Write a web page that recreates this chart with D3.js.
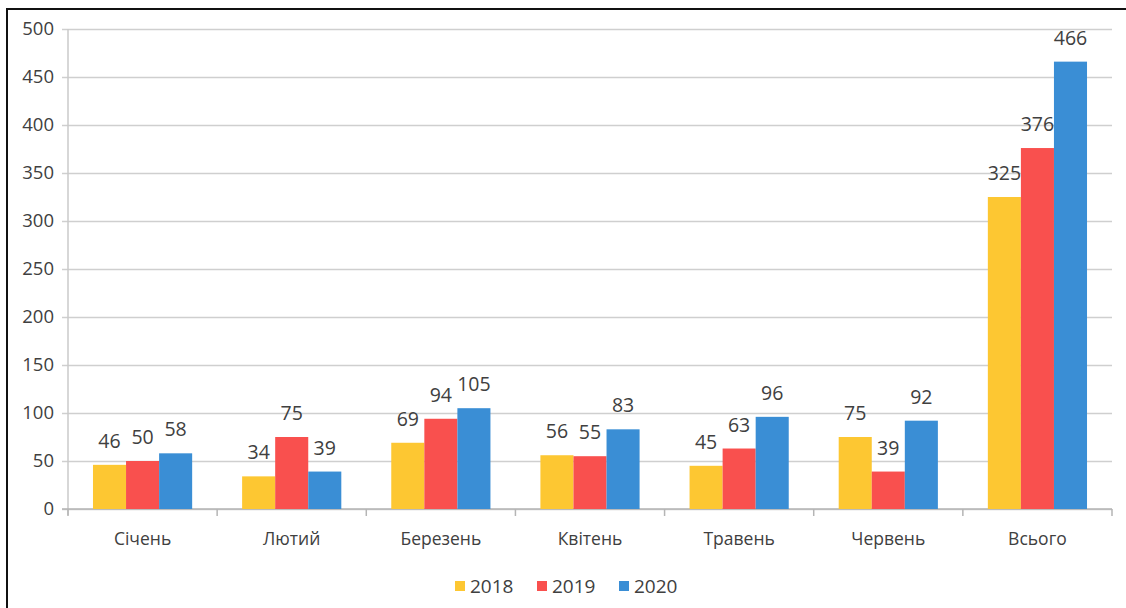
<!DOCTYPE html>
<html>
<head>
<meta charset="utf-8">
<script src="https://cdn.jsdelivr.net/npm/d3@7"></script>
<style>
  html, body { margin: 0; padding: 0; background: #fff; }
  svg { display: block; }
  text { font-family: "Open Sans", "Noto Sans", sans-serif; fill: #404040; }
</style>
</head>
<body>
<svg id="chart" width="1126" height="608"></svg>
<script>
// Monthly counts, January–June, plus total
const categories = ["Січень", "Лютий", "Березень", "Квітень", "Травень", "Червень", "Всього"];
const years = ["2018", "2019", "2020"];
const values2018 = [46, 34, 69, 56, 45, 75, 325];
const values2019 = [50, 75, 94, 55, 63, 39, 376];
const values2020 = [58, 39, 105, 83, 96, 92, 466];
const yTicks = [0, 50, 100, 150, 200, 250, 300, 350, 400, 450, 500];
const colors = ["#FDC732", "#F9504E", "#3A8ED5"];

const seriesValues = [values2018, values2019, values2020];
const rows = categories.map((c, i) => ({
  category: c,
  values: years.map((y, k) => ({ year: y, value: seriesValues[k][i], k }))
}));

const svg = d3.select("#chart");

const plotLeft = 68, plotRight = 1112, plotTop = 29, plotBottom = 509;

const x0 = d3.scaleBand().domain(categories).range([plotLeft, plotRight])
  .paddingInner(0.335).paddingOuter(0.1675);
const x1 = d3.scaleBand().domain(years).range([0, x0.bandwidth()]);
const y = d3.scaleLinear().domain([0, 500]).range([plotBottom, plotTop]);
const color = d3.scaleOrdinal().domain(years).range(colors);

// outer frame
svg.append("rect")
  .attr("x", 7).attr("y", 9)
  .attr("width", 1140).attr("height", 640)
  .attr("fill", "none").attr("stroke", "#111").attr("stroke-width", 2);

// horizontal gridlines with y labels
const yAxis = d3.axisLeft(y).tickValues(yTicks).tickSize(-(plotRight - plotLeft)).tickPadding(14);
const gy = svg.append("g").attr("transform", `translate(${plotLeft},0)`).call(yAxis);
gy.select(".domain").remove();
gy.selectAll(".tick line")
  .attr("x1", -6)
  .attr("stroke", "#cfcfcf").attr("stroke-width", 1.5);
gy.selectAll(".tick text")
  .style("font-size", "18.5px").attr("fill", "#404040")
  .attr("dy", "0.3em");

// vertical axis line
svg.append("line")
  .attr("x1", plotLeft).attr("x2", plotLeft).attr("y1", plotTop).attr("y2", plotBottom + 6)
  .attr("stroke", "#cacaca").attr("stroke-width", 1.5);

// category axis
const step = x0.step();
const boundaries = d3.range(categories.length + 1).map(i => plotLeft + i * step);
svg.append("line")
  .attr("x1", plotLeft - 6).attr("x2", plotRight).attr("y1", plotBottom).attr("y2", plotBottom)
  .attr("stroke", "#b5b5b5").attr("stroke-width", 1.5);
svg.append("g").selectAll("line").data(boundaries).join("line")
  .attr("x1", d => d).attr("x2", d => d)
  .attr("y1", plotBottom).attr("y2", plotBottom + 7)
  .attr("stroke", "#b5b5b5").attr("stroke-width", 1.5);

svg.append("g").selectAll("text").data(categories).join("text")
  .attr("x", d => x0(d) + x0.bandwidth() / 2)
  .attr("y", 545)
  .attr("text-anchor", "middle")
  .style("font-size", "17.5px")
  .text(d => d);

// bars
const groups = svg.append("g").selectAll("g").data(rows).join("g")
  .attr("transform", d => `translate(${x0(d.category)},0)`);

groups.selectAll("rect").data(d => d.values).join("rect")
  .attr("x", d => x1(d.year))
  .attr("y", d => y(d.value))
  .attr("width", x1.bandwidth())
  .attr("height", d => y(0) - y(d.value))
  .attr("fill", d => color(d.year));

// value labels
groups.selectAll("text").data(d => d.values).join("text")
  .attr("x", d => x1(d.year) + x1.bandwidth() / 2)
  .attr("y", d => y(d.value) - 17)
  .attr("text-anchor", "middle")
  .style("font-size", "19.5px")
  .text(d => d.value);

// legend
const legendItems = [
  { year: "2018", sx: 455 },
  { year: "2019", sx: 537 },
  { year: "2020", sx: 619 }
];
const lg = svg.append("g").selectAll("g").data(legendItems).join("g")
  .attr("transform", d => `translate(${d.sx},586)`);
lg.append("rect")
  .attr("x", 0).attr("y", -5).attr("width", 10).attr("height", 10)
  .attr("fill", d => color(d.year));
lg.append("text")
  .attr("x", 15).attr("y", 0).attr("dy", "0.35em")
  .style("font-size", "19px")
  .text(d => d.year);
</script>
</body>
</html>
